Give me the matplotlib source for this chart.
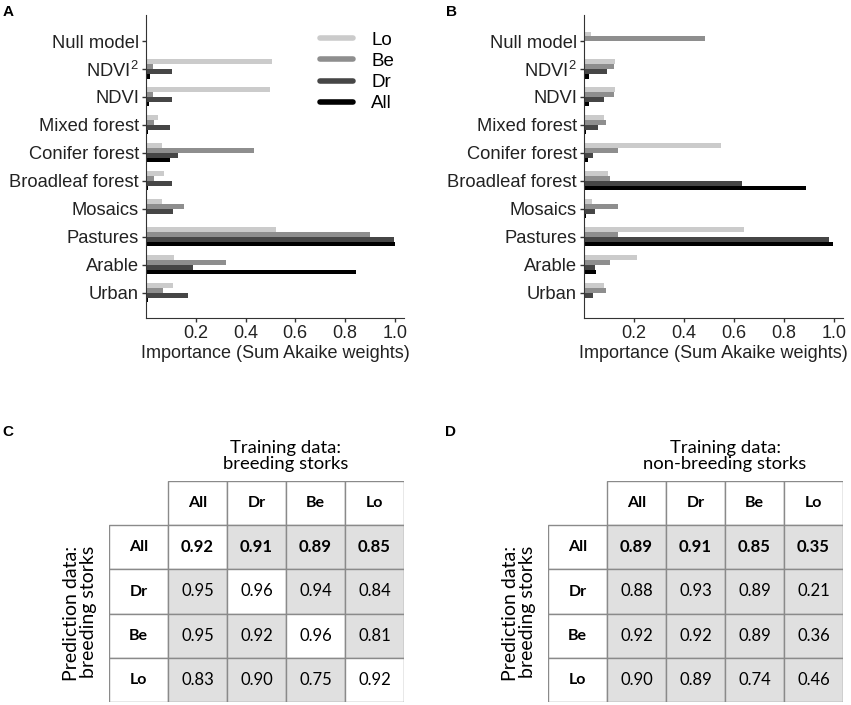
import numpy as np
import matplotlib.pyplot as plt
from matplotlib.lines import Line2D
from matplotlib.patches import Rectangle

plt.rcParams['font.family'] = ['Liberation Sans', 'DejaVu Sans']
plt.rcParams['mathtext.default'] = 'regular'

# panel A / B data: importance (sum of Akaike weights)
variables = ['Null model', 'NDVI$^{2}$', 'NDVI', 'Mixed forest', 'Conifer forest',
             'Broadleaf forest', 'Mosaics', 'Pastures', 'Arable', 'Urban']
groups = ['Lo', 'Be', 'Dr', 'All']
group_colors = ['#cbcbcb', '#8e8e8e', '#464646', '#000000']

breeding_lo = [0.003, 0.507, 0.50, 0.047, 0.063, 0.074, 0.063, 0.521, 0.111, 0.108]
breeding_be = [0.002, 0.027, 0.027, 0.033, 0.436, 0.033, 0.151, 0.90, 0.321, 0.068]
breeding_dr = [0.002, 0.106, 0.106, 0.095, 0.127, 0.103, 0.107, 0.997, 0.19, 0.17]
breeding_all = [0.002, 0.015, 0.012, 0.007, 0.096, 0.009, 0.004, 1.0, 0.846, 0.007]

nonbreed_lo = [0.028, 0.126, 0.126, 0.082, 0.547, 0.095, 0.032, 0.642, 0.214, 0.082]
nonbreed_be = [0.483, 0.121, 0.121, 0.09, 0.137, 0.105, 0.137, 0.137, 0.105, 0.09]
nonbreed_dr = [0.002, 0.092, 0.082, 0.055, 0.035, 0.633, 0.044, 0.979, 0.044, 0.038]
nonbreed_all = [0.002, 0.019, 0.019, 0.007, 0.015, 0.887, 0.007, 0.995, 0.05, 0.005]

# panel C / D data: cross-prediction AUC
train_labels = ['All', 'Dr', 'Be', 'Lo']
pred_labels = ['All', 'Dr', 'Be', 'Lo']
auc_breeding = [[0.92, 0.91, 0.89, 0.85],
                [0.95, 0.96, 0.94, 0.84],
                [0.95, 0.92, 0.96, 0.81],
                [0.83, 0.90, 0.75, 0.92]]
shade_breeding = [[0, 1, 1, 1],
                  [1, 0, 1, 1],
                  [1, 1, 0, 1],
                  [1, 1, 1, 0]]
auc_nonbreeding = [[0.89, 0.91, 0.85, 0.35],
                   [0.88, 0.93, 0.89, 0.21],
                   [0.92, 0.92, 0.89, 0.36],
                   [0.90, 0.89, 0.74, 0.46]]
shade_nonbreeding = [[1, 1, 1, 1],
                     [1, 1, 1, 1],
                     [1, 1, 1, 1],
                     [1, 1, 1, 1]]

W, H = 851, 705
fig = plt.figure(figsize=(W / 100, H / 100), dpi=100)


def px_axes(left, top, right, bottom):
    return fig.add_axes([left / W, 1 - bottom / H, (right - left) / W, (bottom - top) / H])


def bar_panel(ax, series, legend=False):
    y = np.arange(len(variables))
    h = 0.17
    for i, (vals, col) in enumerate(zip(series, group_colors)):
        ax.barh(y + (i - 1.5) * h, vals, height=h, color=col, label=groups[i])
    ax.set_ylim(9.9, -0.93)
    ax.set_xlim(0, 1.037)
    ax.set_yticks(y)
    ax.set_yticklabels(variables, fontsize=13.2, color='#222222')
    ax.set_xticks([0.2, 0.4, 0.6, 0.8, 1.0])
    ax.set_xticklabels(['0.2', '0.4', '0.6', '0.8', '1.0'], fontsize=13, color='#222222')
    ax.tick_params(length=3, width=1, color='#333333', pad=2)
    for s in ['top', 'right']:
        ax.spines[s].set_visible(False)
    for s in ['left', 'bottom']:
        ax.spines[s].set_color('#333333')
    ax.set_xlabel('Importance (Sum Akaike weights)', fontsize=13, color='#222222', labelpad=2)
    if legend:
        handles = [Line2D([], [], color=c, lw=4, solid_capstyle='round') for c in group_colors]
        ax.legend(handles, groups, loc='upper right', bbox_to_anchor=(0.99, 0.97),
                  frameon=False, fontsize=13.5, handlelength=1.75, handletextpad=0.95,
                  labelspacing=0.22, borderaxespad=0)


ax_a = px_axes(146, 15, 404, 318)
bar_panel(ax_a, [breeding_lo, breeding_be, breeding_dr, breeding_all], legend=True)
ax_b = px_axes(584, 15, 843, 318)
bar_panel(ax_b, [nonbreed_lo, nonbreed_be, nonbreed_dr, nonbreed_all])


def table_panel(ax, values, shade, title):
    ax.set_xlim(0, 5)
    ax.set_ylim(5, 0)
    ax.axis('off')
    grid = '#8a8a8a'
    tfont = ['Lato', 'DejaVu Sans']
    # header row
    for j, lab in enumerate(train_labels):
        ax.add_patch(Rectangle((j + 1, 0), 1, 1, facecolor='white', edgecolor=grid, lw=1))
        ax.text(j + 1.5, 0.5, lab, ha='center', va='center', fontsize=11.5,
                fontweight='bold', family=tfont)
    for i, lab in enumerate(pred_labels):
        ax.add_patch(Rectangle((0, i + 1), 1, 1, facecolor='white', edgecolor=grid, lw=1))
        ax.text(0.5, i + 1.5, lab, ha='center', va='center', fontsize=11.5,
                fontweight='bold', family=tfont)
        for j in range(len(train_labels)):
            fc = '#e0e0e0' if shade[i][j] else 'white'
            ax.add_patch(Rectangle((j + 1, i + 1), 1, 1, facecolor=fc, edgecolor=grid, lw=1))
            ax.text(j + 1.5, i + 1.5, f'{values[i][j]:.2f}', ha='center', va='center',
                    fontsize=12, family=tfont,
                    fontweight='bold' if i == 0 else 'normal')
    ax.text(3.0, -0.2, title, ha='center', va='bottom', fontsize=13.3, family=tfont,
            linespacing=1.05)
    ax.text(-0.2, 3.0, 'Prediction data:\nbreeding storks', ha='right', va='center',
            rotation=90, fontsize=14, family=tfont, linespacing=1.0)


ax_c = px_axes(109, 481, 404, 702)
table_panel(ax_c, auc_breeding, shade_breeding, 'Training data:\nbreeding storks')
ax_d = px_axes(548, 481, 843, 702)
table_panel(ax_d, auc_nonbreeding, shade_nonbreeding, 'Training data:\nnon-breeding storks')

for lab, x, y in [('A', 8, 12), ('B', 452, 12), ('C', 8, 432), ('D', 451, 432)]:
    fig.text(x / W, 1 - y / H, lab, fontsize=11, fontweight='bold', ha='center', va='center')

fig.savefig('out.png', dpi=100)
